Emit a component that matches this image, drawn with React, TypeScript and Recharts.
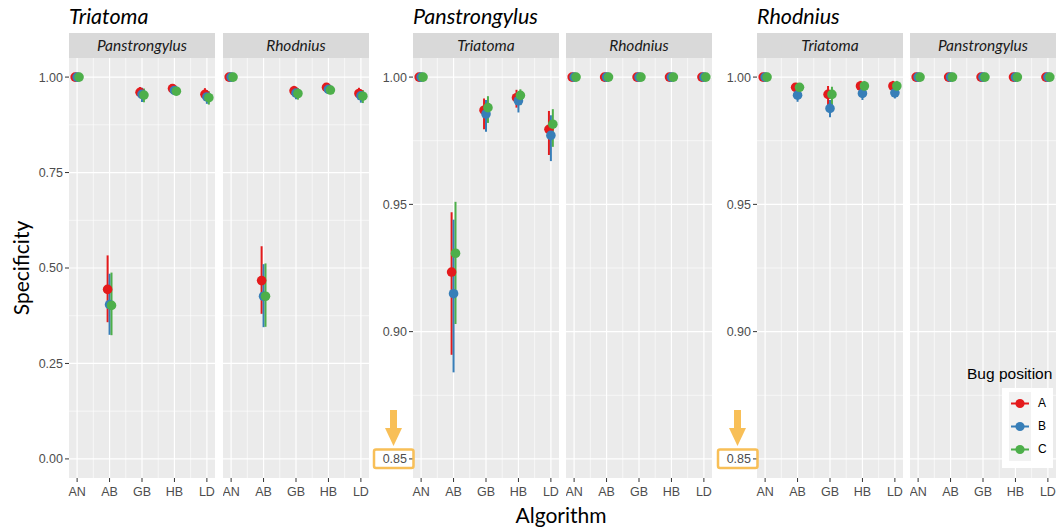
import { ScatterChart, Scatter, XAxis, YAxis, CartesianGrid, ErrorBar } from "recharts";

const algorithms = ["AN", "AB", "GB", "HB", "LD"];
const positions = ["A", "B", "C"];
const positionColors = ["#E41A1C", "#377EB8", "#4DAF4A"];
const dodge = [-0.06, 0, 0.06];

// each row is [specificity, lower, upper], one row per algorithm
const triPanA = [[1, 1, 1], [0.444, 0.358, 0.533], [0.96, 0.945, 0.974], [0.97, 0.96, 0.98], [0.955, 0.938, 0.971]];
const triPanB = [[1, 1, 1], [0.404, 0.325, 0.485], [0.955, 0.935, 0.972], [0.965, 0.955, 0.977], [0.948, 0.93, 0.966]];
const triPanC = [[1, 1, 1], [0.402, 0.324, 0.488], [0.953, 0.934, 0.97], [0.963, 0.952, 0.975], [0.946, 0.928, 0.963]];

const triRhoA = [[1, 1, 1], [0.467, 0.38, 0.557], [0.964, 0.95, 0.977], [0.973, 0.962, 0.982], [0.957, 0.94, 0.972]];
const triRhoB = [[1, 1, 1], [0.426, 0.345, 0.51], [0.958, 0.942, 0.972], [0.968, 0.956, 0.978], [0.951, 0.933, 0.967]];
const triRhoC = [[1, 1, 1], [0.426, 0.346, 0.512], [0.957, 0.941, 0.971], [0.966, 0.955, 0.977], [0.95, 0.932, 0.966]];

const panTriA = [[1, 1, 1], [0.9234, 0.8909, 0.9469], [0.987, 0.9795, 0.9916], [0.9919, 0.988, 0.995], [0.9795, 0.9694, 0.9867]];
const panTriB = [[1, 1, 1], [0.9149, 0.884, 0.944], [0.9855, 0.9785, 0.991], [0.9907, 0.9861, 0.994], [0.9771, 0.967, 0.985]];
const panTriC = [[1, 1, 1], [0.9308, 0.903, 0.951], [0.988, 0.982, 0.9925], [0.9928, 0.989, 0.9952], [0.9815, 0.9726, 0.9874]];

const rhoTriA = [[1, 1, 1], [0.996, 0.9944, 0.9975], [0.9932, 0.9884, 0.9965], [0.9965, 0.9935, 0.9985], [0.9965, 0.9935, 0.9985]];
const rhoTriB = [[1, 1, 1], [0.9929, 0.9903, 0.9955], [0.9877, 0.9842, 0.991], [0.9936, 0.991, 0.996], [0.9938, 0.9916, 0.996]];
const rhoTriC = [[1, 1, 1], [0.996, 0.9944, 0.9976], [0.9932, 0.989, 0.9962], [0.9965, 0.994, 0.9985], [0.9965, 0.994, 0.9985]];

// no misclassifications at all
const perfect = [[1, 1, 1], [1, 1, 1], [1, 1, 1], [1, 1, 1], [1, 1, 1]];

const fullTicks = [0, 0.25, 0.5, 0.75, 1];
const fullMinor = [0.125, 0.375, 0.625, 0.875];
const zoomTicks = [0.85, 0.9, 0.95, 1];
const zoomMinor = [0.875, 0.925, 0.975];

const PANEL_W = 146;
const PLOT_TOP = 58;
const PLOT_H = 420;
const AXIS_H = 30;
const Y_AXIS_W = 44;
const TITLE_FONT = "Lato, 'Open Sans', sans-serif";
const TICK_FONT = "'Liberation Sans', Arial, sans-serif";

type PanelProps = {
  left: number;
  strip: string;
  series: number[][][];
  domain: [number, number];
  ticks: number[];
  minor: number[];
  showY: boolean;
};

function FacetPanel({ left, strip, series, domain, ticks, minor, showY }: PanelProps) {
  const data = series.map((rows, si) =>
    rows.map(([m, lo, hi], i) => ({ x: i + 1 + dodge[si], y: m, err: [m - lo, hi - m] }))
  );
  const axisW = showY ? Y_AXIS_W : 0;
  return (
    <>
      <div
        style={{
          position: "absolute",
          left,
          top: 33,
          width: PANEL_W,
          height: 25,
          background: "#D9D9D9",
          color: "#1A1A1A",
          fontFamily: TITLE_FONT,
          fontStyle: "italic",
          fontSize: 15.5,
          lineHeight: "25px",
          textAlign: "center",
        }}
      >
        {strip}
      </div>
      <div style={{ position: "absolute", left: left - axisW, top: PLOT_TOP }}>
        <ScatterChart
          width={PANEL_W + axisW}
          height={PLOT_H + AXIS_H}
          margin={{ top: 0, right: 0, bottom: 0, left: 0 }}
          style={{ fontFamily: TICK_FONT }}
        >
          <CartesianGrid
            fill="#EBEBEB"
            stroke="#FFFFFF"
            strokeWidth={0.6}
            horizontalValues={minor}
            verticalValues={[1.5, 2.5, 3.5, 4.5]}
          />
          <CartesianGrid stroke="#FFFFFF" strokeWidth={1.2} horizontalValues={ticks} verticalValues={[1, 2, 3, 4, 5]} />
          <XAxis
            type="number"
            dataKey="x"
            domain={[0.75, 5.25]}
            ticks={[1, 2, 3, 4, 5]}
            interval={0}
            allowDataOverflow
            tickFormatter={(v: number) => algorithms[Math.round(v) - 1]}
            axisLine={false}
            tickLine={{ stroke: "#333333" }}
            tickSize={4}
            tickMargin={5}
            tick={{ fill: "#4D4D4D", fontSize: 12.5 }}
            height={AXIS_H}
          />
          <YAxis
            type="number"
            dataKey="y"
            domain={domain}
            ticks={ticks}
            interval={0}
            allowDataOverflow
            hide={!showY}
            width={Y_AXIS_W}
            tickFormatter={(v: number) => v.toFixed(2)}
            axisLine={false}
            tickLine={{ stroke: "#333333" }}
            tickSize={4}
            tickMargin={2}
            tick={{ fill: "#4D4D4D", fontSize: 12.5 }}
          />
          {data.map((d, si) => (
            <Scatter
              key={positions[si]}
              name={positions[si]}
              data={d}
              isAnimationActive={false}
              shape={(p: any) => <circle cx={p.cx} cy={p.cy} r={4.8} fill={positionColors[si]} />}
            >
              <ErrorBar dataKey="err" direction="y" width={0} stroke={positionColors[si]} strokeWidth={2} />
            </Scatter>
          ))}
        </ScatterChart>
      </div>
    </>
  );
}

function GroupTitle({ left, text }: { left: number; text: string }) {
  return (
    <div
      style={{
        position: "absolute",
        left,
        top: 4,
        fontFamily: TITLE_FONT,
        fontStyle: "italic",
        fontSize: 21.5,
        lineHeight: "24px",
        color: "#000",
      }}
    >
      {text}
    </div>
  );
}

// arrow and box pointing at the 0.85 tick of a zoomed-in axis
function Callout({ x }: { x: number }) {
  const c = "#F8BF57";
  return (
    <g>
      <rect x={x - 3.5} y={410} width={7} height={19} fill={c} />
      <polygon points={`${x - 8.5},428 ${x + 8.5},428 ${x},446`} fill={c} />
      <rect x={x - 19.5} y={449.5} width={39.5} height={18.5} rx={2} fill="none" stroke={c} strokeWidth={2.5} />
    </g>
  );
}

function LegendBox() {
  return (
    <>
      <div
        style={{
          position: "absolute",
          left: 967,
          top: 365,
          fontFamily: TICK_FONT,
          fontSize: 15.5,
          color: "#000",
          whiteSpace: "nowrap",
        }}
      >
        Bug position
      </div>
      <div style={{ position: "absolute", left: 1002, top: 388, width: 51, height: 80, background: "#FFFFFF" }}>
        <div style={{ position: "absolute", left: 7, top: 4, width: 22, height: 69, background: "#F2F2F2" }} />
        {positions.map((p, i) => (
          <div key={p}>
            <svg style={{ position: "absolute", left: 7, top: 4 + i * 23 }} width={22} height={23}>
              <line x1={2} x2={20} y1={11.5} y2={11.5} stroke={positionColors[i]} strokeWidth={2} />
              <circle cx={11} cy={11.5} r={4.6} fill={positionColors[i]} />
            </svg>
            <div
              style={{
                position: "absolute",
                left: 36,
                top: 4 + i * 23,
                lineHeight: "23px",
                fontFamily: TICK_FONT,
                fontSize: 12,
                color: "#000",
              }}
            >
              {p}
            </div>
          </div>
        ))}
      </div>
    </>
  );
}

export default function App() {
  return (
    <div style={{ position: "absolute", left: 0, top: 0, width: 1058, height: 528, background: "#FFFFFF", overflow: "hidden" }}>
      <GroupTitle left={69} text="Triatoma" />
      <GroupTitle left={413} text="Panstrongylus" />
      <GroupTitle left={757} text="Rhodnius" />

      <FacetPanel left={69} strip="Panstrongylus" series={[triPanA, triPanB, triPanC]} domain={[-0.05, 1.05]} ticks={fullTicks} minor={fullMinor} showY />
      <FacetPanel left={223} strip="Rhodnius" series={[triRhoA, triRhoB, triRhoC]} domain={[-0.05, 1.05]} ticks={fullTicks} minor={fullMinor} showY={false} />

      <FacetPanel left={413} strip="Triatoma" series={[panTriA, panTriB, panTriC]} domain={[0.8425, 1.0075]} ticks={zoomTicks} minor={zoomMinor} showY />
      <FacetPanel left={566} strip="Rhodnius" series={[perfect, perfect, perfect]} domain={[0.8425, 1.0075]} ticks={zoomTicks} minor={zoomMinor} showY={false} />

      <FacetPanel left={757} strip="Triatoma" series={[rhoTriA, rhoTriB, rhoTriC]} domain={[0.8425, 1.0075]} ticks={zoomTicks} minor={zoomMinor} showY />
      <FacetPanel left={910} strip="Panstrongylus" series={[perfect, perfect, perfect]} domain={[0.8425, 1.0075]} ticks={zoomTicks} minor={zoomMinor} showY={false} />

      <div
        style={{
          position: "absolute",
          left: 20,
          top: 268,
          transform: "translate(-50%, -50%) rotate(-90deg)",
          fontFamily: TITLE_FONT,
          fontSize: 21,
          color: "#000",
          whiteSpace: "nowrap",
        }}
      >
        Specificity
      </div>
      <div
        style={{
          position: "absolute",
          left: 561,
          top: 503,
          transform: "translateX(-50%)",
          fontFamily: TITLE_FONT,
          fontSize: 21,
          lineHeight: "24px",
          color: "#000",
        }}
      >
        Algorithm
      </div>

      <LegendBox />

      <svg style={{ position: "absolute", left: 0, top: 0, pointerEvents: "none" }} width={1058} height={528}>
        <Callout x={393.5} />
        <Callout x={737.5} />
      </svg>
    </div>
  );
}
